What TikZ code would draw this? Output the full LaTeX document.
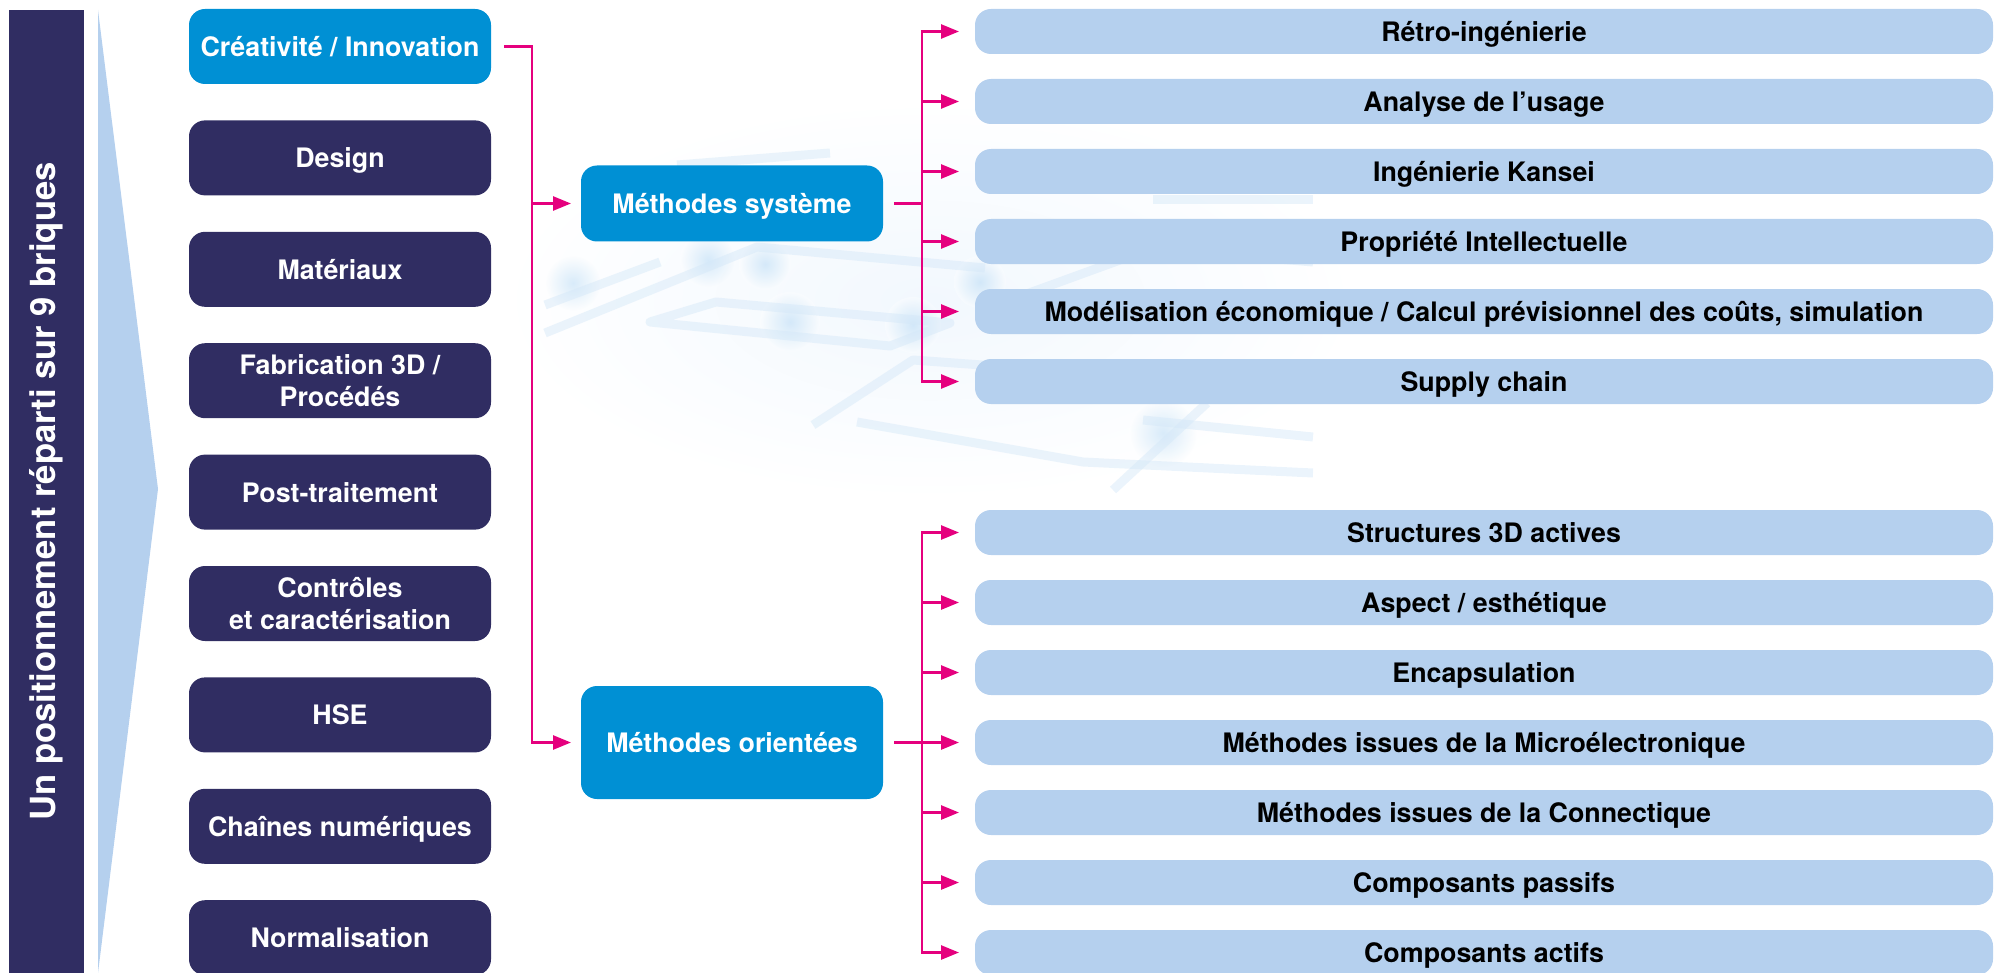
\documentclass[tikz,border=0pt]{standalone}
\usepackage{fontspec}
\setsansfont{TeX Gyre Heros}
\usetikzlibrary{positioning, arrows.meta, calc}
\definecolor{clrnavy}{HTML}{302D62}
\definecolor{clrcyan}{HTML}{0090D4}
\definecolor{clrpale}{HTML}{B5D0EE}
\definecolor{clrlink}{HTML}{E5007E}
\definecolor{clrhaze}{HTML}{F2F8FE}
\definecolor{clrtrack}{HTML}{D3E7F8}
\definecolor{clrglow}{HTML}{94C8F0}

\begin{document}
\begin{tikzpicture}[
    x=0.5pt, y=-0.5pt,
    >={Triangle[length=9pt, width=7pt]},
    every node/.style={font=\sffamily\bfseries\fontsize{13.4}{16}\selectfont},
    brick2/.style={fill=clrnavy, text=white, rounded corners=8pt, minimum width=151pt,
                   minimum height=37.5pt, inner sep=0pt, outer sep=0pt, align=center},
    brick/.style={brick2, text height=10pt, text depth=0pt},
    method/.style={brick, fill=clrcyan},
    leaf/.style={fill=clrpale, text=black, rounded corners=8pt, minimum width=509pt,
                 minimum height=22.5pt, inner sep=0pt, outer sep=0pt,
                 text height=10pt, text depth=0pt},
    link/.style={color=clrlink, line width=1.3pt},
    arrow/.style={link, ->},
    track/.style={draw=clrtrack, line width=4.5pt, opacity=0.45, line join=round},
    glow/.style={inner color=clrglow, outer color=white, opacity=0.35},
]
\useasboundingbox (0,0) rectangle (1995,973);
% faint circuit watermark behind the methods
\shade[inner color=clrhaze, outer color=white] (930,300) ellipse [x radius=430, y radius=200];
\shade[glow] (573,283) circle (28);
\shade[glow] (708,260) circle (28);
\shade[glow] (765,264) circle (26);
\shade[glow] (790,322) circle (30);
\shade[glow] (913,325) circle (28);
\shade[glow] (980,282) circle (26);
\shade[glow] (1163,433) circle (34);
\draw[track] (545,333) -- (757,247) -- (985,268);
\draw[track] (545,305) -- (660,262);
\draw[track] (650,322) -- (716,302) -- (950,323) -- (890,346) -- cycle;
\draw[track] (677,165) -- (830,153);
\draw[track] (813,425) -- (913,360) -- (1120,375);
\draw[track] (857,422) -- (1083,462) -- (1313,473);
\draw[track] (1143,420) -- (1313,437);
\draw[track] (1113,490) -- (1207,403);
\draw[track] (1010,300) -- (1153,248) -- (1313,262);
\draw[track] (1153,200) -- (1313,200);

% left banner
\node[fill=clrnavy, text=white, rotate=90, minimum width=481.5pt, minimum height=37.5pt,
      inner sep=0pt, font=\sffamily\bfseries\fontsize{17.3}{20}\selectfont] (banner) at (46.5,491.5)
      {Un positionnement réparti sur 9 briques};
\fill[clrpale] (98,10) -- (158,489) -- (98,973) -- cycle;

% the 9 bricks
\node[method] (n_1) at (340,46.5) {Créativité / Innovation};
\node[brick, below=18.2pt of n_1] (n_2) {Design};
\node[brick, below=18.2pt of n_2] (n_3) {Matériaux};
\node[brick2, below=18.2pt of n_3] (n_4) {Fabrication 3D /\\Procédés};
\node[brick, below=18.2pt of n_4] (n_5) {Post-traitement};
\node[brick2, below=18.2pt of n_5] (n_6) {Contrôles\\et caractérisation};
\node[brick, below=18.2pt of n_6] (n_7) {HSE};
\node[brick, below=18.2pt of n_7] (n_8) {Chaînes numériques};
\node[brick, below=18.2pt of n_8] (n_9) {Normalisation};

% methods
\node[method, minimum height=38pt] (m_1) at (732,203.5) {Méthodes système};
\node[method, minimum height=56.5pt] (m_2) at (732,742.5) {Méthodes orientées};

% system methods
\node[leaf] (s_1) at (1484,31.5) {Rétro-ingénierie};
\node[leaf, below=12.5pt of s_1] (s_2) {Analyse de l’usage};
\node[leaf, below=12.5pt of s_2] (s_3) {Ingénierie Kansei};
\node[leaf, below=12.5pt of s_3] (s_4) {Propriété Intellectuelle};
\node[leaf, below=12.5pt of s_4] (s_5) {Modélisation économique / Calcul prévisionnel des coûts, simulation};
\node[leaf, below=12.5pt of s_5] (s_6) {Supply chain};

% oriented methods
\node[leaf] (o_1) at (1484,532.5) {Structures 3D actives};
\node[leaf, below=12.5pt of o_1] (o_2) {Aspect / esthétique};
\node[leaf, below=12.5pt of o_2] (o_3) {Encapsulation};
\node[leaf, below=12.5pt of o_3] (o_4) {Méthodes issues de la Microélectronique};
\node[leaf, below=12.5pt of o_4] (o_5) {Méthodes issues de la Connectique};
\node[leaf, below=12.5pt of o_5] (o_6) {Composants passifs};
\node[leaf, below=12.5pt of o_6] (o_7) {Composants actifs};

\coordinate (bus_l) at (532,0);
\coordinate (bus_r) at (922,0);

% connectors
\draw[arrow, shorten <=6.5pt, shorten >=5pt] (n_1.east) -| (bus_l |- m_2.west) -- (m_2.west);
\draw[arrow, shorten >=5pt] (bus_l |- m_1.west) -- (m_1.west);

\draw[link, shorten <=5.5pt] (m_1.east) -- (bus_r |- m_1.east);
\draw[arrow, shorten >=8pt] (bus_r |- s_6.west) |- (s_1.west);
\draw[arrow, shorten >=8pt] (bus_r |- s_1.west) |- (s_6.west);
\foreach \k in {2,...,5}
  \draw[arrow, shorten >=8pt] (bus_r |- s_\k.west) -- (s_\k.west);

\draw[arrow, shorten <=5.5pt, shorten >=8pt] (m_2.east) -- (o_4.west);
\draw[arrow, shorten >=8pt] (bus_r |- o_7.west) |- (o_1.west);
\draw[arrow, shorten >=8pt] (bus_r |- o_1.west) |- (o_7.west);
\foreach \k in {2,3,5,6}
  \draw[arrow, shorten >=8pt] (bus_r |- o_\k.west) -- (o_\k.west);
\end{tikzpicture}
\end{document}
